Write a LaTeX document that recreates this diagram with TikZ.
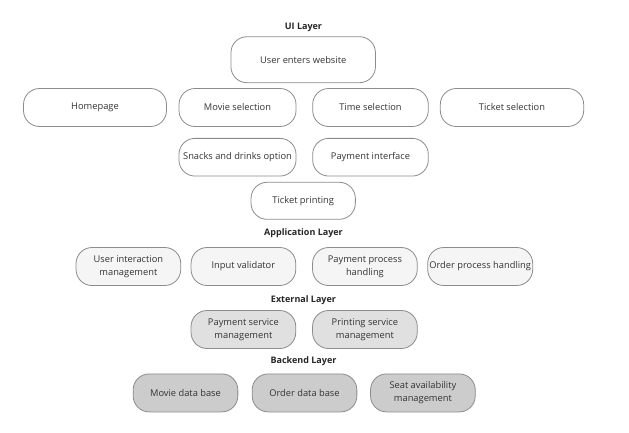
\documentclass[tikz,border=0pt]{standalone}
\usepackage{fontspec}
\setmainfont{Open Sans}
\definecolor{txt}{HTML}{333333}
\definecolor{edge}{HTML}{8C8C8C}
\definecolor{appfill}{HTML}{F5F5F5}
\definecolor{extfill}{HTML}{E0E0E0}
\definecolor{bckfill}{HTML}{CCCCCC}
\begin{document}
\begin{tikzpicture}[x=1pt,y=-1pt,
  box/.style={draw=edge, line width=0.8pt, rounded corners=16pt, align=center,
    text=txt, font=\fontsize{9.3}{12.7}\selectfont, inner sep=0pt,
    minimum height=38pt},
  uibox/.style={box, fill=white},
  appbox/.style={box, fill=appfill, minimum width=104.7pt},
  extbox/.style={box, fill=extfill, minimum width=104.7pt},
  bckbox/.style={box, fill=bckfill, minimum width=104.7pt},
  layer/.style={font=\bfseries\fontsize{9}{11}\selectfont, text=black!85}]
\fill[white] (0,0) rectangle (629,432);
\useasboundingbox (0,0) rectangle (629,432);

\node[layer] (uil) at (303.5,27) {UI Layer};
\node[uibox, minimum width=144.5pt, minimum height=46pt] (user) at (303.2,59.7) {User enters website};
\node[uibox, minimum width=143pt] (home) at (95,107.5) {Homepage};
\node[uibox, minimum width=117pt] (movie) at (237.5,107.5) {Movie selection};
\node[uibox, minimum width=115.6pt] (time) at (370.5,107.5) {Time selection};
\node[uibox, minimum width=143.4pt] (ticket) at (512,107.5) {Ticket selection};
\node[uibox, minimum width=117pt, minimum height=37.7pt] (snack) at (237.5,157.2) {Snacks and drinks option};
\node[uibox, minimum width=115.6pt, minimum height=37.7pt] (pay) at (370.5,157.2) {Payment interface};
\node[uibox, minimum width=104.3pt, minimum height=37pt] (print) at (303.2,200.8) {Ticket printing};

\node[layer] (appl) at (303.5,233.3) {Application Layer};
\node[appbox] (uim) at (128.4,266.5) {User interaction\\management};
\node[appbox] (valid) at (243.4,266.5) {Input validator};
\node[appbox] (pph) at (364.9,266.5) {Payment process\\handling};
\node[appbox, minimum width=105pt] (oph) at (480.2,266.5) {Order process handling};

\node[layer] (extl) at (303.5,300.5) {External Layer};
\node[extbox] (psm) at (243.4,329.5) {Payment service\\management};
\node[extbox] (prsm) at (364.9,329.5) {Printing service\\management};

\node[layer] (bckl) at (303.5,361.5) {Backend Layer};
\node[bckbox] (mdb) at (185.5,392.9) {Movie data base};
\node[bckbox] (odb) at (304.5,392.9) {Order data base};
\node[bckbox] (seat) at (422.9,392.9) {Seat availability\\management};
\end{tikzpicture}
\end{document}
